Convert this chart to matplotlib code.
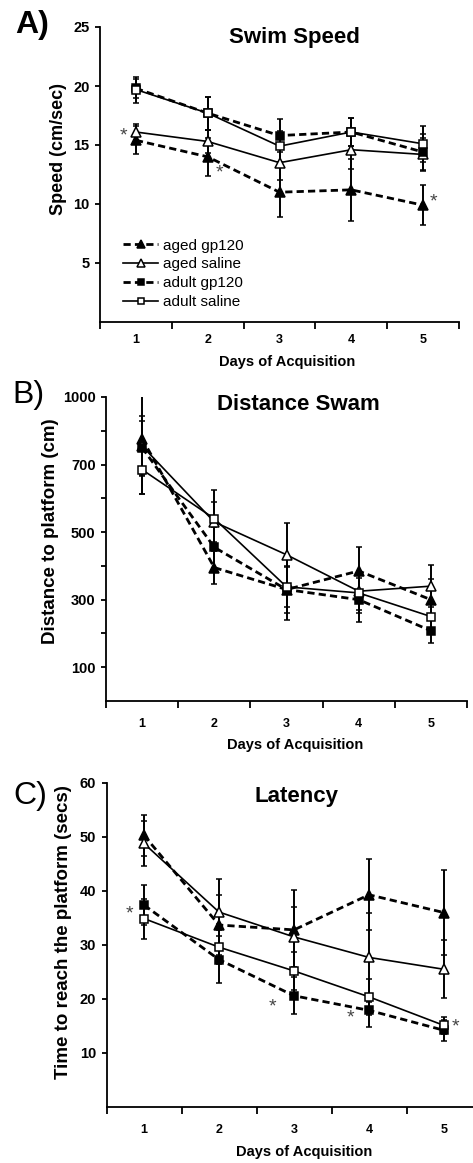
import matplotlib
matplotlib.use("Agg")
import matplotlib.pyplot as plt
from matplotlib.lines import Line2D
import numpy as np

plt.rcParams['font.family'] = ['Liberation Sans', 'DejaVu Sans']

days = [1, 2, 3, 4, 5]
groups = ["aged gp120", "aged saline", "adult gp120", "adult saline"]

# A) swim speed (cm/sec), mean and error
speed = {
    "aged gp120":   [15.4, 14.0, 11.0, 11.2, 9.9],
    "aged saline":  [16.1, 15.3, 13.5, 14.6, 14.2],
    "adult gp120":  [19.8, 17.7, 15.8, 16.1, 14.4],
    "adult saline": [19.7, 17.7, 14.9, 16.1, 15.1],
}
speed_err = {
    "aged gp120":   [1.2, 1.6, 2.1, 2.6, 1.7],
    "aged saline":  [0.7, 1.0, 1.5, 1.6, 1.4],
    "adult gp120":  [0.8, 1.4, 1.4, 1.2, 1.5],
    "adult saline": [1.1, 1.4, 1.3, 1.2, 1.5],
}

# B) distance swam (cm)
dist = {
    "aged gp120":   [777, 395, 330, 385, 300],
    "aged saline":  [755, 530, 433, 325, 340],
    "adult gp120":  [750, 455, 330, 300, 208],
    "adult saline": [685, 540, 338, 320, 250],
}
dist_err = {
    "aged gp120":   [165, 50, 90, 70, 60],
    "aged saline":  [90, 60, 95, 55, 63],
    "adult gp120":  [80, 60, 70, 65, 35],
    "adult saline": [72, 85, 60, 60, 45],
}

# C) latency (secs)
lat = {
    "aged gp120":   [50.3, 33.7, 32.8, 39.3, 36.0],
    "aged saline":  [48.8, 36.1, 31.5, 27.7, 25.5],
    "adult gp120":  [37.4, 27.3, 20.6, 17.9, 14.2],
    "adult saline": [34.9, 29.6, 25.2, 20.4, 15.1],
}
lat_err = {
    "aged gp120":   [3.8, 5.5, 7.4, 6.6, 7.9],
    "aged saline":  [4.2, 6.2, 5.5, 8.2, 5.4],
    "adult gp120":  [3.7, 4.3, 3.4, 3.0, 2.0],
    "adult saline": [3.7, 3.2, 3.5, 3.3, 1.5],
}

# significance stars (x in day units, y in data units)
stars_a = [(0.82, 15.8), (2.16, 12.6), (5.14, 10.2)]
stars_c = [(0.81, 35.8), (2.71, 18.6), (3.75, 16.4), (5.15, 14.9)]

styles = {
    "aged gp120":   dict(marker="^", ms=7.5, mfc="black", ls=(0, (2.6, 1.5)), lw=2.0),
    "aged saline":  dict(marker="^", ms=7.5, mfc="white", ls="-", lw=1.2),
    "adult gp120":  dict(marker="s", ms=5.5, mfc="black", ls=(0, (2.6, 1.5)), lw=2.0),
    "adult saline": dict(marker="s", ms=5.5, mfc="white", ls="-", lw=1.2),
}

fig = plt.figure(figsize=(4.73, 11.63), dpi=100)
W, H = 473.0, 1163.0

def make_ax(left, right, top, bottom):
    return fig.add_axes([left / W, 1 - bottom / H, (right - left) / W, (bottom - top) / H])

axA = make_ax(100, 459, 27, 322)
axB = make_ax(106, 467, 397, 701)
axC = make_ax(106.5, 481.5, 783, 1107)

def draw(ax, means, errs):
    for g in groups:
        st = styles[g]
        ax.errorbar(days, means[g], yerr=errs[g], color="black", ecolor="black",
                    elinewidth=1.4, capsize=2.5, capthick=1.4,
                    marker=st["marker"], ms=st["ms"], mfc=st["mfc"], mec="black", mew=1.1,
                    ls=st["ls"], lw=st["lw"])

def style(ax, ylim, yticks, ylabels, pad_x):
    ax.set_xlim(0.5, 5.5)
    ax.set_ylim(*ylim)
    for s in ["top", "right"]:
        ax.spines[s].set_visible(False)
    for s in ["left", "bottom"]:
        ax.spines[s].set_linewidth(1.3)
    ax.set_xticks(days)
    ax.set_xticklabels([str(d) for d in days], fontsize=9, fontweight="bold")
    ax.set_xticks(np.arange(0.5, 6.0, 1.0), minor=True)
    ax.tick_params(axis="x", which="major", length=0, pad=pad_x)
    ax.tick_params(axis="x", which="minor", length=5, width=1.3, direction="out")
    ax.set_yticks(yticks)
    ax.set_yticklabels(ylabels, fontsize=10.5, fontweight="bold")
    ax.tick_params(axis="y", length=3.5, width=1.3, direction="out", pad=4)

draw(axA, speed, speed_err)
style(axA, (0, 25), [5, 10, 15, 20, 25], ["5", "10", "15", "20", "25"], 8.5)
draw(axB, dist, dist_err)
style(axB, (0, 900), list(range(100, 1000, 100)),
      ["100", "", "300", "", "500", "", "700", "", "1000"], 12)
draw(axC, lat, lat_err)
style(axC, (0, 60), [10, 20, 30, 40, 50, 60], ["10", "20", "30", "40", "50", "60"], 12)

axA.set_ylabel("Speed (cm/sec)", fontsize=13, fontweight="bold", va="center")
axB.set_ylabel("Distance to platform (cm)", fontsize=13.5, fontweight="bold", va="center")
axC.set_ylabel("Time to reach the platform (secs)", fontsize=13.5, fontweight="bold", va="center")
for ax, x, y in [(axA, -0.115, 0.586), (axB, -0.155, 0.559), (axC, -0.116, 0.540)]:
    ax.yaxis.set_label_coords(x, y)

for ax, x, y in [(axA, 0.521, -0.136), (axB, 0.524, -0.145), (axC, 0.527, -0.139)]:
    ax.set_xlabel("Days of Acquisition", fontsize=10.5, fontweight="bold", va="center")
    ax.xaxis.set_label_coords(x, y)

axA.text(0.543, 0.966, "Swim Speed", transform=axA.transAxes, ha="center", va="center",
         fontsize=16, fontweight="bold")
axB.text(0.532, 0.975, "Distance Swam", transform=axB.transAxes, ha="center", va="center",
         fontsize=16, fontweight="bold")
axC.text(0.508, 0.957, "Latency", transform=axC.transAxes, ha="center", va="center",
         fontsize=16, fontweight="bold")

for ax, stars in [(axA, stars_a), (axC, stars_c)]:
    for x, y in stars:
        ax.text(x, y, "*", ha="center", va="center", fontsize=14, color="#444444")

fig.text(15 / W, 1 - 25 / H, "A)", fontsize=23, fontweight="bold", va="center", ha="left")
fig.text(12 / W, 1 - 395 / H, "B)", fontsize=23, va="center", ha="left")
fig.text(13 / W, 1 - 796 / H, "C)", fontsize=23, va="center", ha="left")

handles = [Line2D([], [], color="black", marker=styles[g]["marker"], ms=styles[g]["ms"] - 1.5,
                  mfc=styles[g]["mfc"], mec="black", mew=1.1, ls=styles[g]["ls"], lw=styles[g]["lw"])
           for g in groups]
axA.legend(handles, groups, loc="upper left", bbox_to_anchor=(0.064, 0.283), frameon=False,
           fontsize=11, handlelength=2.3, handletextpad=0.35, labelspacing=0.32,
           borderpad=0, borderaxespad=0)

fig.savefig("out.png", dpi=100)
